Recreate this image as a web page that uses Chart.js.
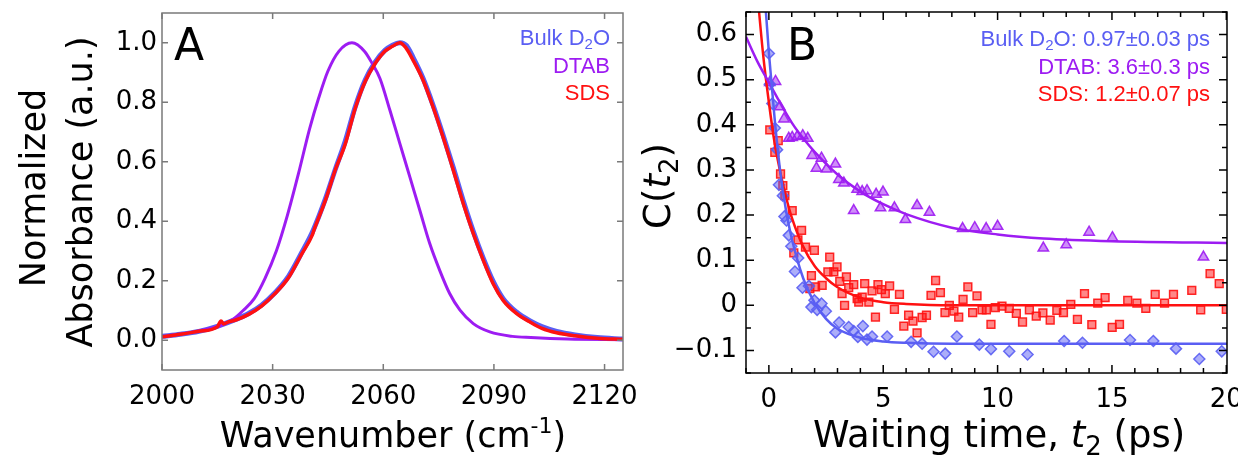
<!DOCTYPE html>
<html>
<head>
<meta charset="utf-8">
<script src="https://cdn.jsdelivr.net/npm/chart.js@4/dist/chart.umd.min.js"></script>
<style>
  html, body { margin: 0; padding: 0; background: #fff; }
  #wrap { position: relative; width: 1238px; height: 458px; overflow: hidden; }
  canvas { position: absolute; top: 0; }
  #panelA { left: 0; }
  #panelB { left: 620px; }
</style>
</head>
<body>
<div id="wrap">
  <canvas id="panelA" width="640" height="458"></canvas>
  <canvas id="panelB" width="618" height="458"></canvas>
</div>
<script>
// ---- panel A : normalized absorbance spectra ----
const bulkWn = [2000, 2005, 2010, 2015, 2020, 2023.5, 2027, 2030.5, 2034.3, 2037.9, 2041, 2044.3, 2047, 2049.7, 2052.4, 2055.1, 2057.8, 2060.5, 2062.5, 2064.5, 2066.3, 2068.1, 2070.8, 2073.5, 2076.2, 2079, 2081.7, 2084.4, 2087.1, 2089.8, 2092.5, 2096.1, 2099.7, 2103, 2107, 2112, 2118, 2125];
const bulkAbs = [0.013, 0.02, 0.03, 0.047, 0.07, 0.09, 0.118, 0.158, 0.215, 0.295, 0.37, 0.475, 0.575, 0.67, 0.785, 0.875, 0.935, 0.975, 0.992, 1.0, 0.99, 0.95, 0.88, 0.79, 0.69, 0.58, 0.468, 0.366, 0.276, 0.198, 0.14, 0.095, 0.066, 0.046, 0.03, 0.018, 0.009, 0.004];

const dtabWn = [2000, 2009, 2016, 2019, 2022, 2025, 2028, 2031, 2034, 2037, 2040, 2042.5, 2045, 2048, 2051.5, 2055, 2057, 2059.1, 2061.8, 2064.5, 2067.2, 2069.9, 2072.6, 2075.3, 2078, 2080.8, 2084.4, 2088.9, 2095, 2100, 2110, 2125];
const dtabAbs = [0.012, 0.029, 0.05, 0.068, 0.1, 0.14, 0.21, 0.3, 0.42, 0.56, 0.71, 0.815, 0.905, 0.972, 1.0, 0.97, 0.93, 0.88, 0.773, 0.661, 0.549, 0.437, 0.325, 0.235, 0.157, 0.101, 0.056, 0.028, 0.013, 0.009, 0.004, 0.002];

const sdsWn = [2000, 2005, 2010, 2015, 2016, 2016.7, 2018, 2020, 2023.5, 2027, 2030.5, 2034.3, 2037.9, 2040.8, 2041.2, 2044.3, 2047, 2049.7, 2052.4, 2055.1, 2057.8, 2060.5, 2062.5, 2064.5, 2066, 2068.1, 2070.8, 2073.5, 2076.2, 2079, 2081.7, 2084.4, 2087.1, 2089.8, 2092.5, 2096.1, 2099.7, 2103, 2107, 2112, 2118, 2125];
const sdsAbs = [0.012, 0.02, 0.03, 0.045, 0.065, 0.055, 0.062, 0.068, 0.087, 0.115, 0.155, 0.21, 0.29, 0.355, 0.37, 0.47, 0.573, 0.66, 0.78, 0.87, 0.93, 0.972, 0.988, 1.0, 0.985, 0.941, 0.874, 0.784, 0.683, 0.571, 0.459, 0.359, 0.269, 0.19, 0.134, 0.09, 0.062, 0.04, 0.025, 0.015, 0.007, 0.003];

const absTicksX = [2000, 2030, 2060, 2090, 2120];
const absTicksY = [0, 0.2, 0.4, 0.6, 0.8, 1.0];

// ---- panel B : frequency-fluctuation correlation C(t2) ----
const bulkT = [0, 0.04, 0.15, 0.26, 0.36, 0.44, 0.61, 0.68, 0.77, 0.87, 0.98, 1.14, 1.28, 1.47, 1.75, 1.86, 1.99, 2.11, 2.3, 2.49, 2.91, 3.07, 3.49, 3.71, 3.89, 4.11, 4.29, 4.51, 5.17, 6.22, 6.7, 7.2, 7.71, 8.22, 9.2, 9.71, 10.51, 11.31, 12.91, 13.71, 15.79, 16.81, 17.8, 18.82, 19.8];
const bulkC = [0.558, 0.49, 0.447, 0.393, 0.345, 0.267, 0.243, 0.197, 0.188, 0.155, 0.131, 0.075, 0.105, 0.039, 0.043, -0.004, 0.011, -0.01, 0.004, -0.013, -0.06, -0.038, -0.048, -0.057, -0.07, -0.046, -0.076, -0.069, -0.069, -0.081, -0.085, -0.103, -0.107, -0.069, -0.087, -0.097, -0.102, -0.109, -0.079, -0.083, -0.077, -0.079, -0.096, -0.119, -0.102];

const dtabT = [0.04, 0.29, 0.48, 0.66, 0.87, 1.02, 1.24, 1.48, 1.7, 1.89, 2.08, 2.3, 2.52, 2.91, 3.06, 3.28, 3.71, 3.86, 4.08, 4.29, 4.69, 4.88, 4.99, 5.49, 5.97, 6.48, 7.02, 8.47, 9.0, 9.5, 10.0, 12.0, 13.0, 14.0, 15.02, 19.0];
const dtabC = [0.494, 0.496, 0.44, 0.413, 0.37, 0.372, 0.374, 0.376, 0.37, 0.332, 0.304, 0.326, 0.302, 0.313, 0.279, 0.271, 0.21, 0.257, 0.252, 0.254, 0.246, 0.216, 0.251, 0.216, 0.19, 0.221, 0.206, 0.17, 0.172, 0.17, 0.175, 0.127, 0.134, 0.162, 0.15, 0.107];

const sdsT = [0.04, 0.26, 0.41, 0.51, 0.61, 0.7, 1.02, 1.09, 1.27, 1.43, 1.6, 1.79, 1.86, 1.99, 2.04, 2.33, 2.58, 2.66, 2.84, 2.98, 3.1, 3.2, 3.31, 3.39, 3.49, 3.71, 3.86, 3.93, 4.08, 4.19, 4.37, 4.51, 4.66, 4.77, 4.92, 5.09, 5.28, 5.49, 5.71, 5.9, 6.11, 6.3, 6.48, 6.7, 6.89, 7.09, 7.29, 7.5, 7.7, 7.89, 8.09, 8.3, 8.49, 8.7, 8.91, 9.1, 9.32, 9.51, 9.71, 9.9, 10.19, 10.51, 10.82, 11.09, 11.39, 11.69, 11.98, 12.3, 12.59, 12.88, 13.2, 13.49, 13.8, 14.12, 14.38, 14.7, 15.01, 15.33, 15.69, 16.09, 16.48, 16.89, 17.3, 17.69, 18.49, 18.88, 19.29, 19.69, 20.0];
const sdsC = [0.389, 0.339, 0.365, 0.291, 0.265, 0.243, 0.21, 0.116, 0.145, 0.166, 0.129, 0.037, 0.066, 0.122, 0.041, 0.044, 0.074, 0.107, 0.074, 0.085, 0.053, 0.026, 0.0, 0.063, 0.039, 0.046, 0.015, 0.007, 0.018, 0.048, 0.007, 0.032, -0.026, 0.046, 0.035, 0.026, 0.043, -0.009, 0.024, -0.046, -0.022, -0.035, -0.061, -0.027, -0.022, 0.022, 0.055, 0.028, -0.016, 0.0, -0.013, -0.026, 0.013, 0.041, -0.016, 0.021, -0.01, -0.01, -0.042, -0.005, -0.002, -0.007, -0.018, -0.037, -0.01, -0.024, -0.017, -0.033, -0.011, -0.016, 0.002, -0.031, 0.026, -0.043, 0.005, 0.017, -0.049, -0.042, 0.011, 0.005, -0.007, 0.024, 0.005, 0.024, 0.033, -0.01, 0.07, 0.048, -0.009];

// fitted decays
const bulkFitT = [-0.2, 0, 0.25, 0.5, 0.75, 1, 1.5, 2, 2.5, 3, 4, 5, 6, 8, 12, 20.5];
const bulkFitC = [0.70, 0.56, 0.415, 0.295, 0.21, 0.148, 0.06, 0.005, -0.03, -0.052, -0.072, -0.08, -0.083, -0.085, -0.085, -0.085];
const dtabFitT = [-1, -0.5, 0, 0.5, 1, 1.5, 2, 3, 4, 5, 6, 8, 10, 12, 15, 20.5];
const dtabFitC = [0.595, 0.54, 0.494, 0.448, 0.405, 0.37, 0.34, 0.29, 0.252, 0.224, 0.202, 0.172, 0.157, 0.148, 0.142, 0.138];
const sdsFitT = [-0.5, -0.25, 0, 0.25, 0.5, 0.75, 1, 1.5, 2, 2.5, 3, 4, 5, 6, 8, 20.5];
const sdsFitC = [0.69, 0.555, 0.45, 0.36, 0.295, 0.24, 0.195, 0.13, 0.087, 0.06, 0.04, 0.017, 0.007, 0.003, 0.0, 0.0];

const ctTicksX = [0, 5, 10, 15, 20];
const ctTicksY = [-0.1, 0, 0.1, 0.2, 0.3, 0.4, 0.5, 0.6];

const legendA = ["Bulk D", "DTAB", "SDS"];
const legendB = ["Bulk D", "DTAB: 3.6±0.3 ps", "SDS: 1.2±0.07 ps"];

const BLUE = "#5a5ef3";
const PURPLE = "#9d1cf2";
const RED = "#ff1111";
const DJ = '"DejaVu Sans", sans-serif';
const LIB = '"Liberation Sans", Arial, sans-serif';

const zip = (xs, ys) => xs.map((v, i) => ({ x: v, y: ys[i] }));

// draw a row of text pieces [text, font, dy]
function drawRuns(ctx, runs, x, y, align) {
  let total = 0;
  runs.forEach((r) => { ctx.font = r[1]; total += ctx.measureText(r[0]).width; });
  let cx = align === "right" ? x - total : align === "center" ? x - total / 2 : x;
  ctx.textAlign = "left";
  ctx.textBaseline = "alphabetic";
  runs.forEach((r) => {
    ctx.font = r[1];
    ctx.fillText(r[0], cx, y + (r[2] || 0));
    cx += ctx.measureText(r[0]).width;
  });
}

// frame, inward ticks and free text
const decor = {
  id: "decor",
  afterDraw(chart, args, o) {
    const { ctx, chartArea: a, scales } = chart;
    const sx = scales.x, sy = scales.y;
    ctx.save();
    ctx.strokeStyle = o.color;
    ctx.lineWidth = o.width;
    ctx.beginPath();
    const tx = (v, len) => {
      const p = sx.getPixelForValue(v);
      ctx.moveTo(p, a.bottom); ctx.lineTo(p, a.bottom - len);
      ctx.moveTo(p, a.top); ctx.lineTo(p, a.top + len);
    };
    const ty = (v, len) => {
      const p = sy.getPixelForValue(v);
      ctx.moveTo(a.left, p); ctx.lineTo(a.left + len, p);
      ctx.moveTo(a.right, p); ctx.lineTo(a.right - len, p);
    };
    sx.ticks.forEach((t) => tx(t.value, o.major));
    sy.ticks.forEach((t) => ty(t.value, o.major));
    (o.minorX || []).forEach((v) => tx(v, o.minor));
    (o.minorY || []).forEach((v) => ty(v, o.minor));
    ctx.stroke();
    ctx.strokeRect(a.left, a.top, a.right - a.left, a.bottom - a.top);

    (o.texts || []).forEach((t) => {
      ctx.fillStyle = t.color || "#000";
      if (t.rotate) {
        ctx.save();
        ctx.translate(t.x, t.y);
        ctx.rotate(-Math.PI / 2);
        drawRuns(ctx, t.runs, 0, 0, "center");
        ctx.restore();
      } else {
        drawRuns(ctx, t.runs, t.x, t.y, t.align);
      }
    });
    ctx.restore();
  },
};

function fixedTicks(values) {
  return (scale) => { scale.ticks = values.map((v) => ({ value: v })); };
}

// keep the plot box where it is even when an end label sticks out
function pinX(h) {
  return (s) => { s.height = h; s.paddingLeft = 0; s.paddingRight = 0; };
}
function pinY(w) {
  return (s) => { s.width = w; s.paddingTop = 0; s.paddingBottom = 0; };
}

const tickFont = { family: "DejaVu Sans", size: 26 };

// ---------- panel A ----------
const fA = "35px " + DJ;
new Chart(document.getElementById("panelA"), {
  type: "line",
  data: {
    datasets: [
      { label: "Bulk D2O", data: zip(bulkWn, bulkAbs), borderColor: BLUE, borderWidth: 5, order: 3 },
      { label: "DTAB", data: zip(dtabWn, dtabAbs), borderColor: PURPLE, borderWidth: 3, order: 2 },
      { label: "SDS", data: zip(sdsWn, sdsAbs), borderColor: RED, borderWidth: 3.5, order: 1 },
    ],
  },
  options: {
    responsive: false,
    animation: false,
    layout: { padding: { top: 13, right: 17, left: 0, bottom: 0 } },
    elements: {
      point: { radius: 0 },
      line: { cubicInterpolationMode: "monotone", fill: false },
    },
    plugins: {
      legend: { display: false },
      tooltip: { enabled: false },
      decor: {
        color: "#7a7a7a", width: 1.5, major: 6,
        texts: [
          { runs: [["A", "44px " + DJ]], x: 174, y: 60 },
          { runs: [[legendA[0], "22px " + LIB], ["2", "15px " + LIB, 4], ["O", "22px " + LIB]], x: 610, y: 45, align: "right", color: BLUE },
          { runs: [[legendA[1], "22px " + LIB]], x: 610, y: 73, align: "right", color: PURPLE },
          { runs: [[legendA[2], "22px " + LIB]], x: 610, y: 100, align: "right", color: RED },
          { runs: [["Wavenumber (cm", fA], ["-1", "22px " + DJ, -14], [")", fA]], x: 393, y: 447, align: "center" },
          { runs: [["Normalized", fA]], x: 45, y: 188, rotate: true },
          { runs: [["Absorbance (a.u.)", fA]], x: 92, y: 192, rotate: true },
        ],
      },
    },
    scales: {
      x: {
        type: "linear", min: 2000, max: 2125,
        afterBuildTicks: fixedTicks(absTicksX),
        afterFit: pinX(88),
        grid: { display: false, drawTicks: false },
        border: { display: false },
        ticks: { font: tickFont, color: "#000", padding: 12, maxRotation: 0, callback: (v) => String(v) },
      },
      y: {
        min: -0.1, max: 1.1,
        afterBuildTicks: fixedTicks(absTicksY),
        afterFit: pinY(162),
        grid: { display: false, drawTicks: false },
        border: { display: false },
        ticks: { font: tickFont, color: "#000", padding: 5, callback: (v) => v.toFixed(1) },
      },
    },
  },
  plugins: [decor],
});

// ---------- panel B ----------
const fB = "37px " + DJ;
const fBi = "italic 37px " + DJ;
const minorTx = [];
for (let t = -1; t <= 20; t++) minorTx.push(t);
const minorTy = [];
for (let k = -3; k <= 13; k++) minorTy.push(k * 0.05);

const marker = (rgb) => ({
  backgroundColor: "rgba(" + rgb + ",0.5)",
  borderColor: "rgba(" + rgb + ",0.9)",
  borderWidth: 1.5,
});

new Chart(document.getElementById("panelB"), {
  type: "scatter",
  data: {
    datasets: [
      { label: "Bulk D2O fit", type: "line", data: zip(bulkFitT, bulkFitC), borderColor: BLUE, borderWidth: 2.5, pointRadius: 0, order: 1 },
      { label: "DTAB fit", type: "line", data: zip(dtabFitT, dtabFitC), borderColor: PURPLE, borderWidth: 2.5, pointRadius: 0, order: 1 },
      { label: "SDS fit", type: "line", data: zip(sdsFitT, sdsFitC), borderColor: RED, borderWidth: 2.5, pointRadius: 0, order: 1 },
      Object.assign({ label: "Bulk D2O", data: zip(bulkT, bulkC), pointStyle: "rectRot", pointRadius: 5.5, order: 2 }, marker("90,94,243")),
      Object.assign({ label: "DTAB", data: zip(dtabT, dtabC), pointStyle: "triangle", pointRadius: 6, order: 2 }, marker("157,28,242")),
      Object.assign({ label: "SDS", data: zip(sdsT, sdsC), pointStyle: "rect", pointRadius: 5.5, order: 2 }, marker("255,17,17")),
    ],
  },
  options: {
    responsive: false,
    animation: false,
    layout: { padding: { top: 12, right: 11, left: 0, bottom: 0 } },
    elements: { line: { cubicInterpolationMode: "monotone", fill: false } },
    plugins: {
      legend: { display: false },
      tooltip: { enabled: false },
      decor: {
        color: "#000", width: 1.5, major: 8, minor: 5,
        minorX: minorTx, minorY: minorTy,
        texts: [
          { runs: [["B", "44px " + DJ]], x: 167, y: 60 },
          { runs: [[legendB[0], "22px " + LIB], ["2", "15px " + LIB, 4], ["O: 0.97±0.03 ps", "22px " + LIB]], x: 590, y: 46, align: "right", color: BLUE },
          { runs: [[legendB[1], "22px " + LIB]], x: 590, y: 74, align: "right", color: PURPLE },
          { runs: [[legendB[2], "22px " + LIB]], x: 590, y: 101, align: "right", color: RED },
          { runs: [["Waiting time, ", fB], ["t", fBi], ["2", "26px " + DJ, 8], [" (ps)", fB]], x: 379, y: 447, align: "center" },
          { runs: [["C(", fB], ["t", fBi], ["2", "26px " + DJ, 8], [")", fB]], x: 50, y: 186, rotate: true },
        ],
      },
    },
    scales: {
      x: {
        type: "linear", min: -1, max: 20.03,
        afterBuildTicks: fixedTicks(ctTicksX),
        afterFit: pinX(85),
        grid: { display: false, drawTicks: false },
        border: { display: false },
        ticks: { font: tickFont, color: "#000", padding: 12, maxRotation: 0, callback: (v) => String(v) },
      },
      y: {
        min: -0.15, max: 0.65,
        afterBuildTicks: fixedTicks(ctTicksY),
        afterFit: pinY(126),
        grid: { display: false, drawTicks: false },
        border: { display: false },
        ticks: {
          font: tickFont, color: "#000", padding: 9,
          callback: (v) => (Math.abs(v) < 1e-9 ? "0" : v < 0 ? "\u2212" + (-v).toFixed(1) : v.toFixed(1)),
        },
      },
    },
  },
  plugins: [decor],
});
</script>
</body>
</html>
